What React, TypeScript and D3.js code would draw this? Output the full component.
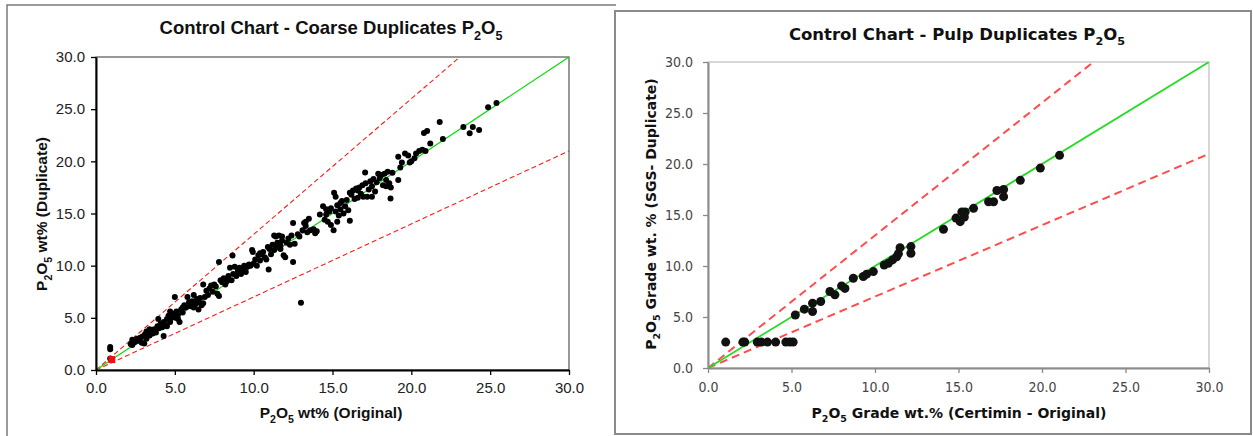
import React, { useRef, useEffect } from 'react';
import * as d3 from 'd3';

const TICKS = [0, 5, 10, 15, 20, 25, 30];
const UPPER_FACTOR = 1.3;
const LOWER_FACTOR = 0.7;

// coarse duplicates
const coarseOriginal = [
  0.9, 0.9, 0.9, 3.06, 4.29,
  2.2, 2.3, 2.4, 2.5, 2.6, 2.7, 2.8, 2.9, 2.95, 2.3,
  3.1, 3.2, 3.3, 3.4, 3.5, 3.6, 3.7, 3.8, 3.9, 3.95, 3.4, 3.2,
  4.0, 4.1, 4.2, 4.3, 4.4, 4.5, 4.6, 4.7, 4.8, 4.9, 4.5, 4.7,
  5.0, 5.05, 5.1, 5.2, 5.3, 5.4, 5.5, 5.6, 5.7, 5.8, 5.9, 5.2, 5.5,
  6.0, 6.1, 6.2, 6.3, 6.4, 6.5, 6.6, 6.7, 6.8, 6.9, 6.2, 6.5, 6.8,
  7.0, 7.1, 7.2, 7.3, 7.4, 7.6, 7.7, 7.8, 7.8, 7.9, 7.5,
  8.0, 8.1, 8.2, 8.3, 8.4, 8.5, 8.6, 8.66, 8.7, 8.8, 8.9, 8.3,
  9.0, 9.1, 9.2, 9.3, 9.4, 9.6, 9.7, 9.8, 9.9, 9.95, 9.5,
  10.0, 10.1, 10.2, 10.3, 10.4, 10.5, 10.6, 10.7, 10.8, 10.9, 10.95, 10.4,
  11.0, 11.1, 11.2, 11.3, 11.4, 11.5, 11.6, 11.7, 11.8, 11.9, 11.5, 11.7, 11.3, 11.8, 12.0,
  12.1, 12.2, 12.3, 12.4, 12.5, 12.5, 12.6, 12.8, 12.9, 13.0,
  13.1, 13.2, 13.3, 13.4, 13.5, 13.6, 13.8, 13.9, 14.0, 13.3,
  14.2, 14.4, 14.5, 14.6, 14.7, 14.8, 14.9, 15.07, 14.9, 14.6,
  15.1, 15.2, 15.2, 15.3, 15.4, 15.5, 15.6, 15.7, 15.8, 15.9, 15.3, 15.5, 16.0,
  16.1, 16.1, 16.2, 16.3, 16.4, 16.5, 16.6, 16.7, 16.8, 16.9, 16.95, 16.6,
  17.07, 17.1, 17.2, 17.3, 17.4, 17.5, 17.6, 17.7, 17.8, 17.9, 17.5, 18.0,
  18.1, 18.2, 18.3, 18.4, 18.5, 18.6, 18.68, 18.7, 18.8, 18.4,
  19.17, 19.17, 19.3, 19.4, 19.6, 19.8, 19.9, 20.0,
  20.2, 20.3, 20.5, 20.7, 20.8, 20.9, 21.0, 21.2, 21.8, 22.0,
  23.3, 23.7, 23.9, 24.3, 24.87, 25.4,
];
const coarseDuplicate = [
  2.2, 2.0, 1.1, 2.55, 3.26,
  2.5, 2.9, 2.6, 2.7, 3.0, 2.8, 3.1, 2.6, 3.2, 2.4,
  3.4, 3.0, 3.6, 3.3, 3.8, 3.5, 3.9, 3.6, 4.2, 4.9, 3.9, 3.7,
  4.0, 4.4, 4.1, 4.6, 4.3, 4.9, 5.2, 4.6, 5.0, 5.4, 4.2, 5.6,
  7.0, 5.0, 5.6, 5.3, 4.6, 5.8, 5.5, 6.2, 6.0, 7.0, 6.5, 4.9, 6.0,
  6.1, 6.6, 7.2, 6.3, 6.8, 6.5, 6.9, 6.2, 8.2, 7.0, 6.0, 5.8, 6.4,
  7.6, 7.2, 7.8, 8.1, 7.5, 8.0, 7.3, 7.1, 10.34, 8.6, 8.2,
  8.4, 8.8, 8.2, 8.5, 9.0, 9.8, 8.6, 10.98, 9.2, 9.9, 9.0, 8.7,
  9.5, 9.8, 9.2, 9.6, 10.0, 9.9, 10.1, 10.0, 11.5, 11.3, 9.4,
  10.2, 10.6, 10.0, 11.0, 10.5, 11.1, 11.3, 10.8, 10.6, 11.8, 9.64, 11.2,
  11.6, 11.1, 12.0, 11.5, 12.8, 11.8, 12.9, 11.9, 12.4, 11.0, 12.2, 11.6, 12.9, 12.8, 10.8,
  12.2, 12.6, 12.0, 12.9, 10.34, 14.1, 12.1, 13.0, 12.8, 6.45,
  13.4, 14.1, 13.8, 13.2, 14.5, 13.4, 13.5, 13.1, 13.3, 14.2,
  14.9, 15.7, 14.4, 14.9, 14.2, 15.2, 13.9, 13.4, 15.5, 15.4,
  16.98, 16.6, 15.2, 15.8, 14.8, 15.4, 16.2, 15.0, 15.7, 16.3, 14.2, 16.0, 15.3,
  14.3, 17.0, 16.8, 17.2, 16.4, 17.4, 16.5, 17.5, 16.9, 17.7, 16.6, 17.2,
  18.93, 17.9, 16.6, 17.3, 18.1, 17.6, 18.3, 17.1, 18.0, 18.8, 16.6, 18.4,
  18.7, 17.7, 18.8, 18.2, 19.0, 17.9, 16.44, 17.5, 18.9, 17.6,
  20.43, 18.2, 19.4, 19.9, 20.74, 20.55, 19.9, 20.0,
  20.3, 20.74, 21.0, 21.1, 22.72, 21.0, 22.9, 21.7, 23.78, 22.15,
  23.3, 22.7, 23.3, 23.0, 25.18, 25.6,
];
// the red square sample near the origin
const coarseFlaggedOriginal = [1.0];
const coarseFlaggedDuplicate = [1.0];

// pulp duplicates
const pulpOriginal = [
  1.06, 2.09, 2.2, 2.95, 3.2, 3.56, 4.05, 4.66, 4.9, 5.1,
  5.23, 5.77, 6.26, 6.26, 6.75, 7.3, 7.6, 8.0, 8.2,
  8.7, 9.3, 9.5, 9.9, 10.55, 10.8, 11.05, 11.3, 11.5, 11.4, 12.15, 12.15,
  14.1, 14.85, 15.1, 15.2, 15.4, 15.35, 15.9,
  16.8, 17.1, 17.3, 17.7, 17.7, 18.7, 19.9, 21.05,
];
const pulpDuplicate = [
  2.54, 2.54, 2.54, 2.54, 2.54, 2.54, 2.54, 2.54, 2.54, 2.54,
  5.2, 5.77, 6.36, 5.54, 6.52, 7.5, 7.17, 8.05, 7.8,
  8.8, 8.97, 9.2, 9.45, 10.1, 10.27, 10.6, 10.9, 11.8, 11.2, 11.9, 11.25,
  13.6, 14.7, 14.35, 15.3, 15.3, 14.8, 15.65,
  16.3, 16.3, 17.4, 17.5, 16.8, 18.4, 19.6, 20.85,
];

type Part = [string, boolean];

const P2O5: Part[] = [['P', false], ['2', true], ['O', false], ['5', true]];

const LEFT = {
  id: 'coarse',
  plot: { left: 96, right: 569, top: 57, bottom: 370 },
  font: 'Liberation Sans, Arial, sans-serif',
  tickFont: 'Liberation Sans, Arial, sans-serif',
  titleParts: [['Control Chart - Coarse Duplicates ', false] as Part, ...P2O5],
  titlePos: [331, 34], titleSize: 18.5,
  xLabel: [...P2O5, [' wt%  (Original)', false] as Part],
  xLabelPos: [331, 418], labelSize: 15.5,
  yLabel: [...P2O5, [' wt%  (Duplicate)', false] as Part],
  yLabelPos: [47, 214],
  tickSize: 15, tickFill: '#222', tickPadX: 7, tickPadY: 6,
  axisColor: '#000', axisWidth: 2, frameColor: '#333', frameWidth: 1,
  green: '#00e000', greenWidth: 1.2,
  red: '#ff1a1a', redWidth: 1.1, dash: '5,3',
  dotR: 3, dotFill: '#000',
  xs: coarseOriginal, ys: coarseDuplicate,
};

const RIGHT = {
  id: 'pulp',
  plot: { left: 708, right: 1209, top: 62, bottom: 368 },
  font: 'DejaVu Sans, Verdana, sans-serif',
  tickFont: 'DejaVu Sans Condensed, DejaVu Sans, sans-serif',
  titleParts: [['Control Chart - Pulp Duplicates ', false] as Part, ...P2O5],
  titlePos: [957, 40], titleSize: 16.5,
  xLabel: [...P2O5, [' Grade wt.% (Certimin - Original)', false] as Part],
  xLabelPos: [959, 418], labelSize: 14,
  yLabel: [...P2O5, [' Grade wt. % (SGS- Duplicate)', false] as Part],
  yLabelPos: [656, 214],
  tickSize: 14, tickFill: '#444', tickPadX: 9, tickPadY: 10,
  axisColor: '#8a8a8a', axisWidth: 2, frameColor: '#b0b0b0', frameWidth: 1,
  green: '#22dd22', greenWidth: 1.8,
  red: '#ff4d4d', redWidth: 2, dash: '8,5',
  dotR: 4.5, dotFill: '#111',
  xs: pulpOriginal, ys: pulpDuplicate,
};

function writeParts(text: any, parts: Part[], size: number) {
  parts.forEach(([s, sub], i) => {
    const prevSub = i > 0 && parts[i - 1][1];
    let dy = 0;
    if (sub && !prevSub) dy = size * 0.3;
    if (!sub && prevSub) dy = -size * 0.3;
    text.append('tspan')
      .attr('dy', dy)
      .attr('font-size', sub ? size * 0.68 : size)
      .text(s);
  });
}

function ScatterPanel({ cfg, flagged }: any) {
  const ref = useRef<SVGGElement>(null);

  useEffect(() => {
    const g = d3.select(ref.current);
    g.selectAll('*').remove();
    const { plot } = cfg;

    const x = d3.scaleLinear().domain([0, 30]).range([plot.left, plot.right]);
    const y = d3.scaleLinear().domain([0, 30]).range([plot.bottom, plot.top]);

    g.append('rect')
      .attr('x', plot.left).attr('y', plot.top)
      .attr('width', plot.right - plot.left).attr('height', plot.bottom - plot.top)
      .attr('fill', '#fff').attr('stroke', cfg.frameColor).attr('stroke-width', cfg.frameWidth);

    const clipId = `clip-${cfg.id}`;
    g.append('clipPath').attr('id', clipId)
      .append('rect')
      .attr('x', plot.left).attr('y', plot.top)
      .attr('width', plot.right - plot.left).attr('height', plot.bottom - plot.top);

    const line = d3.line<number[]>().x(d => x(d[0])).y(d => y(d[1]));
    const lines = g.append('g').attr('clip-path', `url(#${clipId})`);

    lines.append('path')
      .attr('d', line([[0, 0], [30 / UPPER_FACTOR, 30]]))
      .attr('fill', 'none').attr('stroke', cfg.red)
      .attr('stroke-width', cfg.redWidth).attr('stroke-dasharray', cfg.dash);
    lines.append('path')
      .attr('d', line([[0, 0], [30, 30 * LOWER_FACTOR]]))
      .attr('fill', 'none').attr('stroke', cfg.red)
      .attr('stroke-width', cfg.redWidth).attr('stroke-dasharray', cfg.dash);

    const pts = cfg.xs.map((v: number, i: number) => [v, cfg.ys[i]]);
    g.append('g').selectAll('circle')
      .data(pts)
      .join('circle')
      .attr('cx', (d: any) => x(d[0]))
      .attr('cy', (d: any) => y(d[1]))
      .attr('r', cfg.dotR)
      .attr('fill', cfg.dotFill);

    if (flagged) {
      const fp = flagged.xs.map((v: number, i: number) => [v, flagged.ys[i]]);
      g.append('g').selectAll('rect')
        .data(fp)
        .join('rect')
        .attr('x', (d: any) => x(d[0]) - 3.5)
        .attr('y', (d: any) => y(d[1]) - 3.5)
        .attr('width', 7).attr('height', 7)
        .attr('fill', '#ee1111');
    }

    lines.append('path')
      .attr('d', line([[0, 0], [30, 30]]))
      .attr('fill', 'none').attr('stroke', cfg.green)
      .attr('stroke-width', cfg.greenWidth);

    const yAxis = g.append('g')
      .attr('transform', `translate(${plot.left},0)`)
      .call(d3.axisLeft(y).tickValues(TICKS).tickFormat(d3.format('.1f'))
        .tickSize(5).tickPadding(cfg.tickPadY).tickSizeOuter(0));
    const xAxis = g.append('g')
      .attr('transform', `translate(0,${plot.bottom})`)
      .call(d3.axisBottom(x).tickValues(TICKS).tickFormat(d3.format('.1f'))
        .tickSize(5).tickPadding(cfg.tickPadX).tickSizeOuter(0));

    [xAxis, yAxis].forEach(ax => {
      ax.select('.domain').attr('stroke', cfg.axisColor).attr('stroke-width', cfg.axisWidth);
      ax.selectAll('.tick line').attr('stroke', cfg.axisColor).attr('stroke-width', 1.3);
      ax.selectAll('.tick text')
        .attr('font-family', cfg.tickFont).attr('font-size', cfg.tickSize).attr('fill', cfg.tickFill);
    });

    const title = g.append('text')
      .attr('x', cfg.titlePos[0]).attr('y', cfg.titlePos[1])
      .attr('text-anchor', 'middle').attr('font-family', cfg.font)
      .attr('font-weight', 'bold').attr('fill', '#111');
    writeParts(title, cfg.titleParts, cfg.titleSize);

    const xl = g.append('text')
      .attr('x', cfg.xLabelPos[0]).attr('y', cfg.xLabelPos[1])
      .attr('text-anchor', 'middle').attr('font-family', cfg.font)
      .attr('font-weight', 'bold').attr('fill', '#111');
    writeParts(xl, cfg.xLabel, cfg.labelSize);

    const yl = g.append('text')
      .attr('transform', `translate(${cfg.yLabelPos[0]},${cfg.yLabelPos[1]}) rotate(-90)`)
      .attr('text-anchor', 'middle').attr('font-family', cfg.font)
      .attr('font-weight', 'bold').attr('fill', '#111');
    writeParts(yl, cfg.yLabel, cfg.labelSize);
  }, [cfg, flagged]);

  return <g ref={ref} />;
}

const FLAGGED = { xs: coarseFlaggedOriginal, ys: coarseFlaggedDuplicate };

export default function App() {
  return (
    <svg width={1253} height={436} style={{ position: 'absolute', left: 0, top: 0, background: '#fff' }}>
      {/* left panel frame: only top and left edges */}
      <path d="M7,436 V5 H616" fill="none" stroke="#7a7a7a" strokeWidth={1.5} />
      {/* right panel frame */}
      <rect x={615} y={11} width={636} height={423} fill="none" stroke="#8a8a8a" strokeWidth={2} />
      <ScatterPanel cfg={LEFT} flagged={FLAGGED} />
      <ScatterPanel cfg={RIGHT} />
    </svg>
  );
}
